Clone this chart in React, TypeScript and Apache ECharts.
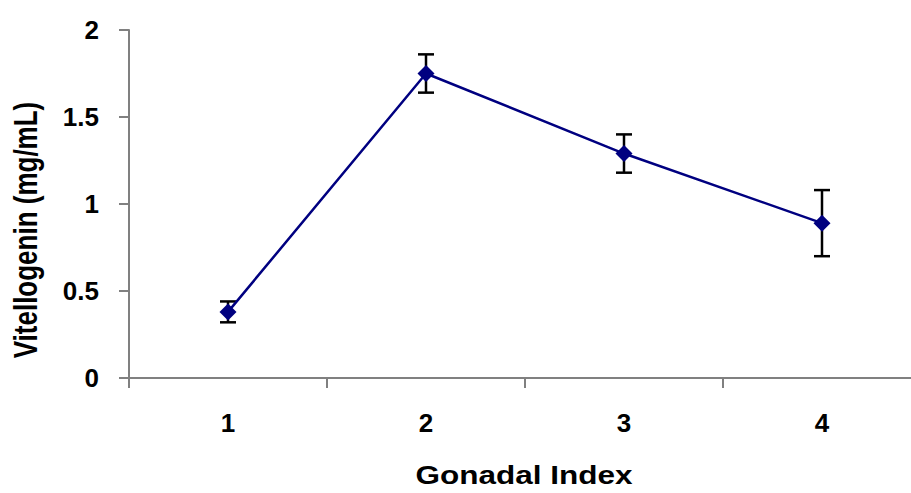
import React, { useEffect, useRef } from "react";
import * as echarts from "echarts";

const categories = ["1", "2", "3", "4"];
const means = [0.38, 1.75, 1.29, 0.89];
const errors = [0.06, 0.11, 0.11, 0.19];
const yTicks = [0, 0.5, 1, 1.5, 2];
const xTitle = "Gonadal Index";
const yTitle = "Vitellogenin (mg/mL)";

export default function App() {
  const ref = useRef<HTMLDivElement>(null);
  useEffect(() => {
    const chart = echarts.init(ref.current!, null, { renderer: "svg" });
    const errData = means.map((m, i) => [i, m - errors[i], m + errors[i]]);
    const font = "Liberation Sans, Arial, sans-serif";
    chart.setOption({
      animation: false,
      backgroundColor: "#ffffff",
      grid: { left: 129, width: 792, top: 30, height: 348 },
      graphic: [
        {
          type: "text",
          x: 524,
          y: 475,
          scaleX: 1.26,
          style: {
            text: xTitle,
            font: `bold 25px ${font}`,
            fill: "#000",
            align: "center",
            verticalAlign: "middle",
          },
        },
        {
          type: "text",
          x: 25,
          y: 230,
          rotation: Math.PI / 2,
          scaleY: 1.26,
          style: {
            text: yTitle,
            font: `bold 26px ${font}`,
            fill: "#000",
            align: "center",
            verticalAlign: "middle",
          },
        },
      ],
      xAxis: {
        type: "category",
        data: categories,
        boundaryGap: true,
        axisLine: { lineStyle: { color: "#808080", width: 2 } },
        axisTick: { show: true, length: 10, lineStyle: { color: "#808080", width: 2 } },
        axisLabel: { fontFamily: font, fontWeight: "bold", fontSize: 26, color: "#000", margin: 32 },
        splitLine: { show: false },
      },
      yAxis: {
        type: "value",
        min: yTicks[0],
        max: yTicks[yTicks.length - 1],
        interval: 0.5,
        axisLine: { show: true, lineStyle: { color: "#808080", width: 2 } },
        axisTick: { show: true, length: 10, lineStyle: { color: "#808080", width: 2 } },
        axisLabel: { fontFamily: font, fontWeight: "bold", fontSize: 26, color: "#000", margin: 30 },
        splitLine: { show: false },
      },
      series: [
        {
          type: "custom",
          data: errData,
          z: 1,
          renderItem: (params: any, api: any) => {
            const x = api.value(0);
            const lo = api.coord([x, api.value(1)]);
            const hi = api.coord([x, api.value(2)]);
            const hw = 8;
            const style = { stroke: "#000", lineWidth: 2.5 };
            return {
              type: "group",
              children: [
                { type: "line", shape: { x1: lo[0], y1: lo[1], x2: hi[0], y2: hi[1] }, style },
                { type: "line", shape: { x1: lo[0] - hw, y1: lo[1], x2: lo[0] + hw, y2: lo[1] }, style },
                { type: "line", shape: { x1: hi[0] - hw, y1: hi[1], x2: hi[0] + hw, y2: hi[1] }, style },
              ],
            };
          },
        },
        {
          type: "line",
          data: means,
          z: 3,
          symbol: "diamond",
          symbolSize: 17,
          lineStyle: { color: "#000080", width: 2.5 },
          itemStyle: { color: "#000080" },
        },
      ],
    });
    return () => chart.dispose();
  }, []);
  return (
    <div style={{ position: "fixed", left: 0, top: 0, width: 911, height: 493, overflow: "hidden", background: "#fff" }}>
      <div ref={ref} style={{ width: 940, height: 493 }} />
    </div>
  );
}
